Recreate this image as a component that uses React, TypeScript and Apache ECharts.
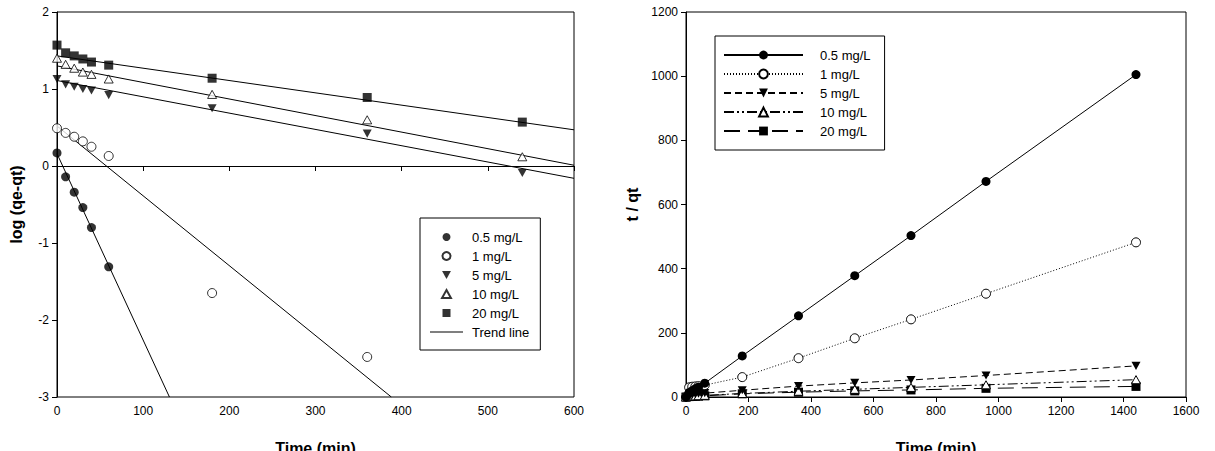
import React, { useEffect, useRef } from "react";
import * as echarts from "echarts";

// ---------- data: left panel (pseudo-first-order) ----------
const tLeft = [0, 10, 20, 30, 40, 60, 180, 360, 540];
const logQ05 = [0.17, -0.14, -0.34, -0.54, -0.8, -1.31];
const logQ1 = [0.49, 0.43, 0.38, 0.32, 0.25, 0.13, -1.65, -2.48];
const logQ5 = [1.13, 1.06, 1.03, 1.0, 0.98, 0.92, 0.75, 0.42, -0.09];
const logQ10 = [1.4, 1.32, 1.27, 1.22, 1.19, 1.13, 0.93, 0.6, 0.12];
const logQ20 = [1.57, 1.47, 1.43, 1.39, 1.35, 1.31, 1.14, 0.89, 0.57];
// trend lines: [time, value] at both ends
const trend05 = [[0, 0.16], [130.5, -3]];
const trend1 = [[0, 0.52], [388, -3]];
const trend5 = [[0, 1.11], [600, -0.16]];
const trend10 = [[0, 1.3], [600, 0.01]];
const trend20 = [[0, 1.43], [600, 0.47]];

// ---------- data: right panel (pseudo-second-order) ----------
const tRight = [0, 10, 20, 30, 40, 60, 180, 360, 540, 720, 960, 1440];
const tq05 = [0, 14, 20, 26, 31, 43, 128, 253, 378, 503, 672, 1005];
const tq1 = [0, 30, 32, 33, 34, 37, 62, 121, 183, 242, 322, 482];
const tq5 = [0, 5, 7, 9, 10, 12, 21, 34, 44, 53, 67, 97];
const tq10 = [0, 2.4, 3.1, 3.6, 4.2, 5.2, 11, 18, 24, 30, 38, 54];
const tq20 = [0, 1.3, 2, 2.4, 2.7, 3.6, 10, 15, 19, 22, 27, 33];

const names = ["0.5 mg/L", "1 mg/L", "5 mg/L", "10 mg/L", "20 mg/L"];

const FONT = "'Liberation Sans', Arial, sans-serif";
const DOWN_TRI = "path://M0,0L10,0L5,9Z";
const UP_TRI = "path://M5,0L10,9L0,9Z";
const SQUARE = "path://M0,0L10,0L10,10L0,10Z";

const filled = { color: "#000" };
const hollow = { color: "#fff", borderColor: "#000", borderWidth: 1 };
const symbols = [
  { symbol: "circle", itemStyle: filled },
  { symbol: "circle", itemStyle: hollow },
  { symbol: DOWN_TRI, itemStyle: filled },
  { symbol: UP_TRI, itemStyle: hollow },
  { symbol: SQUARE, itemStyle: filled },
];

const pairs = (t: number[], v: number[]) => v.map((y, i) => [t[i], y]);

function axisBase(extra: any) {
  return {
    type: "value",
    axisLine: { show: true, lineStyle: { color: "#000", width: 1 } },
    axisTick: { show: true, inside: false, length: 5, lineStyle: { color: "#000" } },
    axisLabel: { color: "#000", fontSize: 12, margin: 8, fontFamily: FONT, formatter: (v: number) => String(v) },
    splitLine: { show: false },
    nameLocation: "middle",
    nameTextStyle: { fontWeight: "bold", fontSize: 16, color: "#000", fontFamily: FONT },
    ...extra,
  };
}

function leftOption() {
  const scatterData = [logQ05, logQ1, logQ5, logQ10, logQ20];
  const trends = [trend05, trend1, trend5, trend10, trend20];
  const series: any[] = [];
  trends.forEach((tr) =>
    series.push({
      type: "line",
      name: "Trend line",
      data: tr,
      symbol: "none",
      color: "#000",
      lineStyle: { color: "#000", width: 1 },
      z: 1,
    })
  );
  scatterData.forEach((v, i) =>
    series.push({
      type: "scatter",
      name: names[i],
      data: pairs(tLeft, v),
      symbol: symbols[i].symbol,
      symbolSize: 9,
      symbolKeepAspect: true,
      itemStyle: symbols[i].itemStyle,
      z: 3,
    })
  );
  return {
    animation: false,
    textStyle: { fontFamily: FONT },
    grid: {
      left: 57, top: 12, width: 517, height: 385, show: true, borderColor: "#000", borderWidth: 1,
      containLabel: false, outerBoundsMode: "none",
    },
    xAxis: axisBase({ min: 0, max: 600, interval: 100, name: "Time (min)", nameGap: 43 }),
    yAxis: axisBase({ min: -3, max: 2, interval: 1, name: "log (qe-qt)", nameGap: 33 }),
    legend: {
      orient: "vertical",
      left: 420,
      top: 218,
      padding: [12, 11, 11, 10],
      itemGap: 5,
      itemWidth: 33,
      itemHeight: 8,
      symbolKeepAspect: true,
      borderColor: "#000",
      borderWidth: 1,
      selectedMode: false,
      textStyle: { fontSize: 13, color: "#000", lineHeight: 14, padding: [0, 0, 0, 4], fontFamily: FONT },
      data: [
        ...names.map((n, i) => ({ name: n, icon: symbols[i].symbol })),
        { name: "Trend line", icon: "path://M0,0H33V1H0Z" },
      ],
    },
    series,
  };
}

function rightOption() {
  const vals = [tq05, tq1, tq5, tq10, tq20];
  const dashes: any[] = ["solid", [1, 2], [7, 4], [10, 3, 2, 3, 2, 3], [16, 8]];
  const series = vals.map((v, i) => ({
    type: "line",
    name: names[i],
    data: pairs(tRight, v),
    symbol: symbols[i].symbol,
    symbolSize: 9,
    symbolKeepAspect: true,
    showSymbol: true,
    color: "#000",
    itemStyle: symbols[i].itemStyle,
    lineStyle: { color: "#000", width: 1, type: dashes[i] },
    z: 5 - i,
  }));
  return {
    animation: false,
    textStyle: { fontFamily: FONT },
    grid: {
      left: 79, top: 12, width: 500, height: 385, show: true, borderColor: "#000", borderWidth: 1,
      containLabel: false, outerBoundsMode: "none",
    },
    xAxis: axisBase({ min: 0, max: 1600, interval: 200, name: "Time (min)", nameGap: 43 }),
    yAxis: axisBase({ min: 0, max: 1200, interval: 200, name: "t / qt", nameGap: 28 }),
    legend: {
      orient: "vertical",
      left: 108,
      top: 36,
      padding: [12, 14, 12, 8],
      itemGap: 5,
      itemWidth: 79,
      itemHeight: 11,
      borderColor: "#000",
      borderWidth: 1,
      selectedMode: false,
      textStyle: { fontSize: 13, color: "#000", lineHeight: 14, padding: [0, 0, 0, 12], fontFamily: FONT },
      data: names,
    },
    series,
  };
}

function Panel({ left, width, option }: { left: number; width: number; option: any }) {
  const ref = useRef<HTMLDivElement>(null);
  useEffect(() => {
    if (!ref.current) return;
    const chart = echarts.init(ref.current, undefined, { renderer: "svg" });
    chart.setOption(option);
    return () => chart.dispose();
  }, []);
  return (
    <div
      ref={ref}
      style={{ position: "fixed", left, top: 0, width, height: 451, background: "#fff" }}
    />
  );
}

export default function App() {
  return (
    <div>
      <Panel left={0} width={607} option={leftOption()} />
      <Panel left={607} width={608} option={rightOption()} />
    </div>
  );
}
